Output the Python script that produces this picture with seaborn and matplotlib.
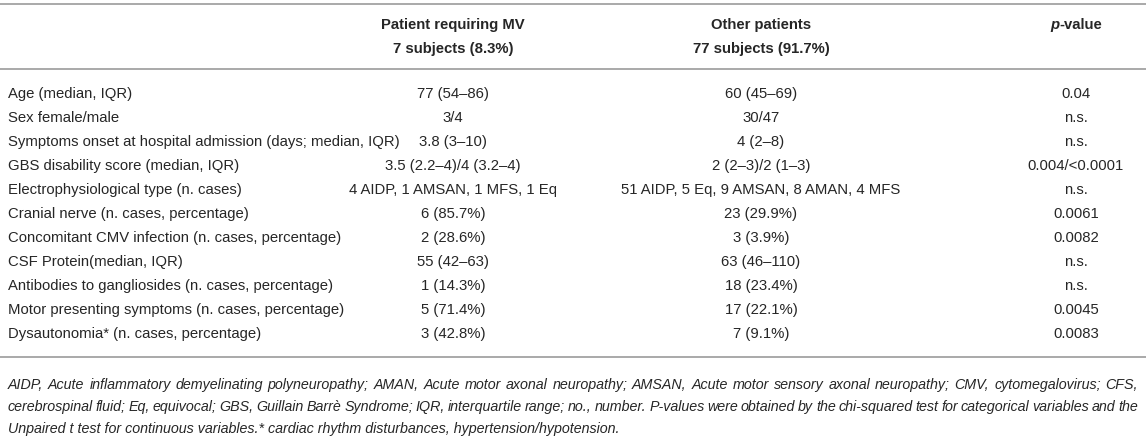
import matplotlib
matplotlib.use("Agg")
import seaborn as sns
import matplotlib.pyplot as plt

# Table contents.
header_mv = ["Patient requiring MV", "7 subjects (8.3%)"]
header_other = ["Other patients", "77 subjects (91.7%)"]
row_labels = [
    "Age (median, IQR)",
    "Sex female/male",
    "Symptoms onset at hospital admission (days; median, IQR)",
    "GBS disability score (median, IQR)",
    "Electrophysiological type (n. cases)",
    "Cranial nerve (n. cases, percentage)",
    "Concomitant CMV infection (n. cases, percentage)",
    "CSF Protein(median, IQR)",
    "Antibodies to gangliosides (n. cases, percentage)",
    "Motor presenting symptoms (n. cases, percentage)",
    "Dysautonomia* (n. cases, percentage)",
]
mv_values = [
    "77 (54–86)", "3/4", "3.8 (3–10)", "3.5 (2.2–4)/4 (3.2–4)",
    "4 AIDP, 1 AMSAN, 1 MFS, 1 Eq", "6 (85.7%)", "2 (28.6%)",
    "55 (42–63)", "1 (14.3%)", "5 (71.4%)", "3 (42.8%)",
]
other_values = [
    "60 (45–69)", "30/47", "4 (2–8)", "2 (2–3)/2 (1–3)",
    "51 AIDP, 5 Eq, 9 AMSAN, 8 AMAN, 4 MFS", "23 (29.9%)", "3 (3.9%)",
    "63 (46–110)", "18 (23.4%)", "17 (22.1%)", "7 (9.1%)",
]
p_values = [
    "0.04", "n.s.", "n.s.", "0.004/<0.0001", "n.s.", "0.0061",
    "0.0082", "n.s.", "n.s.", "0.0045", "0.0083",
]
footnote_lines = [
    "AIDP, Acute inflammatory demyelinating polyneuropathy; AMAN, Acute motor axonal neuropathy; "
    "AMSAN, Acute motor sensory axonal neuropathy; CMV, cytomegalovirus; CFS,",
    "cerebrospinal fluid; Eq, equivocal; GBS, Guillain Barrè Syndrome; IQR, interquartile range; "
    "no., number. P-values were obtained by the chi-squared test for categorical variables and the",
    "Unpaired t test for continuous variables.* cardiac rhythm disturbances, hypertension/hypotension.",
]

sns.set_theme(style="white")
plt.rcParams["font.family"] = ["Liberation Sans", "DejaVu Sans"]

W, H = 1146, 448
fig = plt.figure(figsize=(W / 100, H / 100), dpi=100)
ax = fig.add_axes([0, 0, 1, 1])
ax.set_xlim(0, W)
ax.set_ylim(H, 0)
ax.axis("off")

ink = "#262626"
rule = "#a3a3a3"
fs = 10.7
fs_note = 10.3
col_x = [8, 453, 761, 1076]
row_y0, row_dy = 94, 24

# Rules.
for y in [4, 69, 357]:
    ax.axhline(y, color=rule, lw=1.3)

# Header.
for i, line in enumerate(header_mv):
    ax.text(col_x[1], 25 + 24 * i, line, ha="center", va="center",
            fontsize=fs, fontweight="bold", color=ink)
for i, line in enumerate(header_other):
    ax.text(col_x[2], 25 + 24 * i, line, ha="center", va="center",
            fontsize=fs, fontweight="bold", color=ink)

fig.canvas.draw()
renderer = fig.canvas.get_renderer()


def width_of(s, size=fs, **kw):
    t = ax.text(0, 0, s, fontsize=size, **kw)
    w = t.get_window_extent(renderer).width
    t.remove()
    return w


# p-value header with italic p.
wp = width_of("p", fontweight="bold", fontstyle="italic")
wv = width_of("-value", fontweight="bold")
x0 = col_x[3] - (wp + wv) / 2
ax.text(x0, 25, "p", ha="left", va="center", fontsize=fs,
        fontweight="bold", fontstyle="italic", color=ink)
ax.text(x0 + wp, 25, "-value", ha="left", va="center", fontsize=fs,
        fontweight="bold", color=ink)

# Body rows.
for i, (lab, a, b, p) in enumerate(zip(row_labels, mv_values, other_values, p_values)):
    y = row_y0 + row_dy * i
    ax.text(col_x[0], y, lab, ha="left", va="center", fontsize=fs, color=ink)
    ax.text(col_x[1], y, a, ha="center", va="center", fontsize=fs, color=ink)
    ax.text(col_x[2], y, b, ha="center", va="center", fontsize=fs, color=ink)
    ax.text(col_x[3], y, p, ha="center", va="center", fontsize=fs, color=ink)

# Footnote, justified italic text.
left, right = 8, 1138
for j, line in enumerate(footnote_lines):
    y = 385 + 22 * j
    words = line.split(" ")
    if j == len(footnote_lines) - 1:
        ax.text(left, y, line, ha="left", va="center", fontsize=fs_note,
                fontstyle="italic", color=ink)
        continue
    widths = [width_of(w, size=fs_note, fontstyle="italic") for w in words]
    gap = (right - left - sum(widths)) / (len(words) - 1)
    x = left
    for w, wd in zip(words, widths):
        ax.text(x, y, w, ha="left", va="center", fontsize=fs_note,
                fontstyle="italic", color=ink)
        x += wd + gap

fig.savefig("out.png", dpi=100)
